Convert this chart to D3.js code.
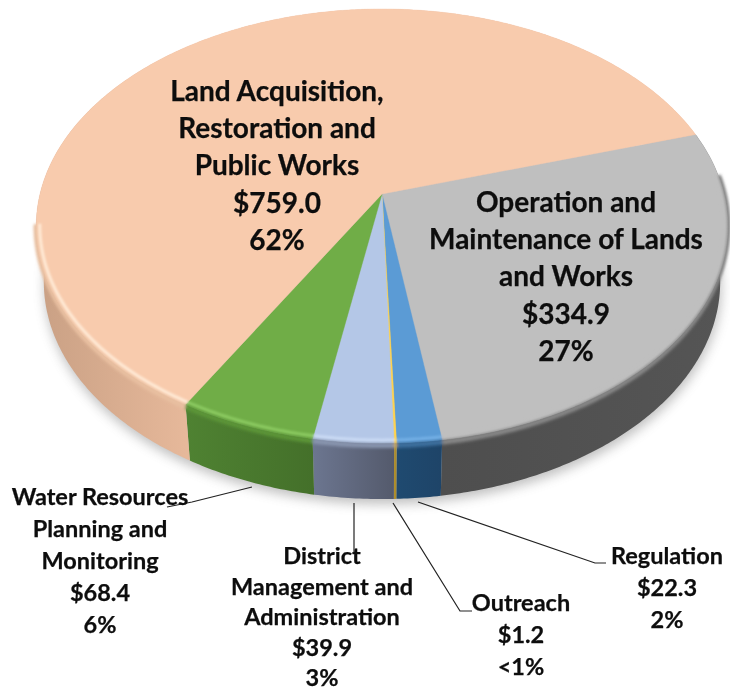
<!DOCTYPE html>
<html><head><meta charset="utf-8">
<script src="https://cdn.jsdelivr.net/npm/d3@7"></script>
<style>html,body{margin:0;padding:0;background:#fff}svg{display:block;filter:blur(0.45px)}text{font-family:Lato,"Open Sans",sans-serif;font-weight:700;fill:#0d0d0d;stroke:#0d0d0d;stroke-width:.25;text-anchor:middle}</style>
</head><body><svg id="c" width="730" height="692"></svg>
<script>
const categories = ["Operation and Maintenance of Lands and Works","Regulation","Outreach","District Management and Administration","Water Resources Planning and Monitoring","Land Acquisition, Restoration and Public Works"];
const values = [334.9,22.3,1.2,39.9,68.4,759.0];
const percents = ["27%","2%","<1%","3%","6%","62%"];
const nameLines = [["Operation and","Maintenance of Lands","and Works"],["Regulation"],["Outreach"],["District","Management and","Administration"],["Water Resources","Planning and","Monitoring"],["Land Acquisition,","Restoration and","Public Works"]];
const topColors = ["#BFBFBF","#5B9BD5","#FFD34F","#B4C7E7","#70AD47","#F8CBAD"];
const sideLeft = ["#4E4E4E","#1F4A70","#B08F2C","#6C7690","#4F8232","#C9A084"];
const sideRight = ["#555555","#1E4468","#A88A2A","#545A6C","#44702A","#E6B89A"];
const shadeColors = ["#868686","#3D6F9E","#D9B03C","#8894AE","#5C9438","#E8BFA0"];
const glowColors = ["#BFBFBF","#74B0E6","#FFE070","#CBDBF5","#8CCB62","#FFEAD6"];

// layout
const cx=382, apexY=194, persp=0.1475, ax=342, ay=183.7, depth=56, bottomScale=0.978;
const startDeg=73;
const labelPos=[{x:566,y:212,dy:37.2,fs:28},{x:667,y:564,dy:32,fs:23.5},{x:521,y:611,dy:32,fs:23.5},{x:322,y:564,dy:30.5,fs:23.5},{x:100,y:505,dy:32,fs:23.5},{x:277,y:101,dy:37.2,fs:28}];
const leaders=[null,[[418,502],[595,563],[606,563]],[[393,503],[460,611],[472,611]],[[354,503],[354,553]],[[252,487],[192,502],[167,507]],null];
const frontLo=85, frontHi=262;

function proj(t,r=1){const x=r*Math.sin(t),y=-r*Math.cos(t),w=1-persp*y;return [cx+ax*x/w,(ay*y+apexY)/w];}
function projB(t){const p=proj(t);return [cx+(p[0]-cx)*bottomScale,p[1]+depth];}
const rad=d=>d*Math.PI/180;
const pie=d3.pie().sort(null).startAngle(rad(startDeg)).endAngle(rad(startDeg)+2*Math.PI);
const arcs=pie(values);
const samples=(a,b)=>{const n=Math.max(2,Math.ceil((b-a)/0.01));return d3.range(n+1).map(i=>a+(b-a)*i/n);};
const front=d=>samples(Math.max(d.startAngle,rad(frontLo)),Math.min(d.endAngle,rad(frontHi)));
const line=d3.line();
const svg=d3.select("#c");
const defs=svg.append("defs");
const blurF=(id,s)=>defs.append("filter").attr("id",id).attr("filterUnits","userSpaceOnUse").attr("x",0).attr("y",0).attr("width",730).attr("height",692).append("feGaussianBlur").attr("stdDeviation",s);
blurF("sh",6);blurF("bv",1.5);blurF("gl",1.1);
arcs.forEach((d,i)=>{
  const xs=front(d).map(t=>proj(t)[0]);
  const g=defs.append("linearGradient").attr("id","side"+i).attr("gradientUnits","userSpaceOnUse").attr("x1",d3.min(xs)).attr("x2",d3.max(xs)+0.01).attr("y1",0).attr("y2",0);
  g.append("stop").attr("offset",0).attr("stop-color",sideLeft[i]);
  g.append("stop").attr("offset",1).attr("stop-color",sideRight[i]);
});

const full=samples(0,2*Math.PI);
svg.append("path").attr("d",line(full.map(t=>{const p=projB(t);return [p[0]+1,p[1]+5];}))+"Z").attr("fill","#666").attr("opacity",.42).attr("filter","url(#sh)");

// sides
svg.append("g").selectAll("path").data(arcs).join("path")
 .attr("d",d=>{const s=samples(d.startAngle,d.endAngle);return line(s.map(t=>proj(t)).concat(s.slice().reverse().map(projB)))+"Z";})
 .attr("fill",(d,i)=>`url(#side${i})`);
// shaded band just outside the rim
svg.append("g").attr("filter","url(#bv)").selectAll("path").data(arcs).join("path")
 .attr("d",d=>line(front(d).map(t=>{const p=proj(t);return [p[0],p[1]+2.5*Math.max(0,-Math.cos(t))];})))
 .attr("fill","none").attr("stroke",(d,i)=>shadeColors[i]).attr("stroke-width",5);
// top faces
svg.append("g").selectAll("path").data(arcs).join("path")
 .attr("d",d=>line([proj(0,0)].concat(samples(d.startAngle,d.endAngle).map(t=>proj(t))))+"Z")
 .attr("fill",(d,i)=>topColors[i]).attr("stroke",(d,i)=>topColors[i]).attr("stroke-width",.4);
// bevel: soft shade on the rim, then highlight just inside it
svg.append("g").attr("filter","url(#bv)").selectAll("path").data(arcs).join("path")
 .attr("d",d=>line(front(d).map(t=>proj(t))))
 .attr("fill","none").attr("stroke",(d,i)=>shadeColors[i]).attr("stroke-width",2);
svg.append("g").attr("filter","url(#gl)").selectAll("path").data(arcs).join("path")
 .attr("d",d=>line(front(d).map(t=>proj(t,0.99))))
 .attr("fill","none").attr("stroke",(d,i)=>glowColors[i]).attr("stroke-width",3);

// leaders
svg.append("g").selectAll("path").data(leaders.filter(Boolean)).join("path")
 .attr("d",d=>line(d)).attr("fill","none").attr("stroke","#222").attr("stroke-width",1.2);

// labels
arcs.forEach((d,i)=>{
  const p=labelPos[i],lines=nameLines[i].concat(["$"+values[i].toFixed(1),percents[i]]);
  const t=svg.append("text").attr("font-size",p.fs);
  lines.forEach((l,k)=>t.append("tspan").attr("x",p.x).attr("y",p.y+k*p.dy).text(l));
});
</script></body></html>
